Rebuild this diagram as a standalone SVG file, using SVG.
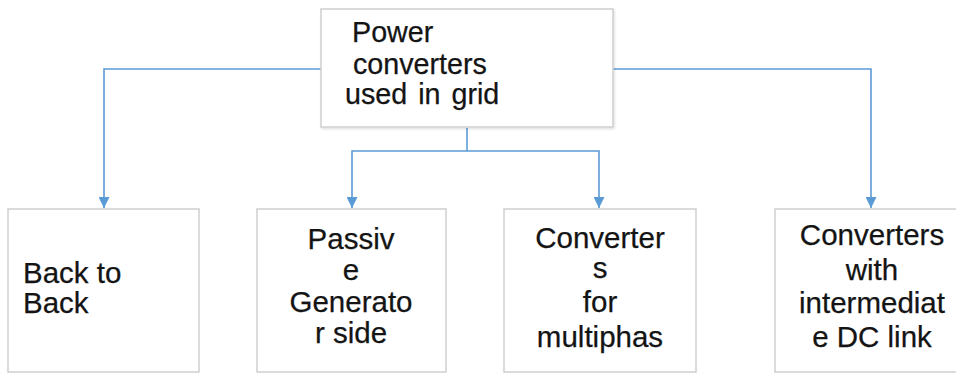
<svg xmlns="http://www.w3.org/2000/svg" width="956" height="374" viewBox="0 0 956 374">
  <defs>
    <marker id="arrow" viewBox="0 0 10 10" refX="10" refY="5" markerWidth="11" markerHeight="11" markerUnits="userSpaceOnUse" orient="auto">
      <path d="M0,0 L10,5 L0,10 Z" fill="#5b9bd5"/>
    </marker>
    <filter id="shadow" x="-5%" y="-5%" width="110%" height="115%">
      <feDropShadow dx="1" dy="1.5" stdDeviation="1.2" flood-color="#000" flood-opacity="0.12"/>
    </filter>
  </defs>
  <style>
    .box { fill: #ffffff; stroke: #cfcfcf; stroke-width: 1.5; }
    .lbl { font-family: "Liberation Sans", Arial, sans-serif; font-size: 29.5px; fill: #141414; stroke: #141414; stroke-width: 0.25; }
    .top { font-size: 28.7px; }
    .mid { text-anchor: middle; }
    .conn { fill: none; stroke: #5b9bd5; stroke-width: 1.6; }
  </style>
  <rect width="956" height="374" fill="#ffffff"/>

  <!-- connectors -->
  <g id="connectors">
    <path class="conn" d="M321,69 H104 V208" marker-end="url(#arrow)"/>
    <path class="conn" d="M613,69 H871 V208" marker-end="url(#arrow)"/>
    <path class="conn" d="M467,128 V151"/>
    <path class="conn" d="M467,151 H352 V208" marker-end="url(#arrow)"/>
    <path class="conn" d="M467,151 H599 V208" marker-end="url(#arrow)"/>
  </g>

  <!-- root node -->
  <g id="root">
    <rect class="box" x="321" y="9" width="292" height="118" filter="url(#shadow)"/>
    <text class="lbl top" x="352" y="42">Power</text>
    <text class="lbl top" x="353" y="74">converters</text>
    <text class="lbl top" x="345" y="104" word-spacing="3">used in grid</text>
  </g>

  <!-- leaf nodes -->
  <g id="back-to-back">
    <rect class="box" x="8" y="209" width="191" height="163"/>
    <text class="lbl" x="23" y="283">Back to</text>
    <text class="lbl" x="23" y="313">Back</text>
  </g>

  <g id="passive-generator">
    <rect class="box" x="257" y="209" width="189" height="163"/>
    <text class="lbl mid" x="351" y="249">Passiv</text>
    <text class="lbl mid" x="351" y="280">e</text>
    <text class="lbl mid" x="351" y="312">Generato</text>
    <text class="lbl mid" x="351" y="343">r side</text>
  </g>

  <g id="multiphase">
    <rect class="box" x="504" y="209" width="192" height="163"/>
    <text class="lbl mid" x="600" y="248">Converter</text>
    <text class="lbl mid" x="600" y="278">s</text>
    <text class="lbl mid" x="600" y="312">for</text>
    <text class="lbl mid" x="600" y="347">multiphas</text>
  </g>

  <g id="dc-link">
    <rect class="box" x="775" y="209" width="192" height="163"/>
    <text class="lbl mid" x="872" y="245">Converters</text>
    <text class="lbl mid" x="872" y="280">with</text>
    <text class="lbl mid" x="872" y="313">intermediat</text>
    <text class="lbl mid" x="872" y="347">e DC link</text>
  </g>
</svg>
